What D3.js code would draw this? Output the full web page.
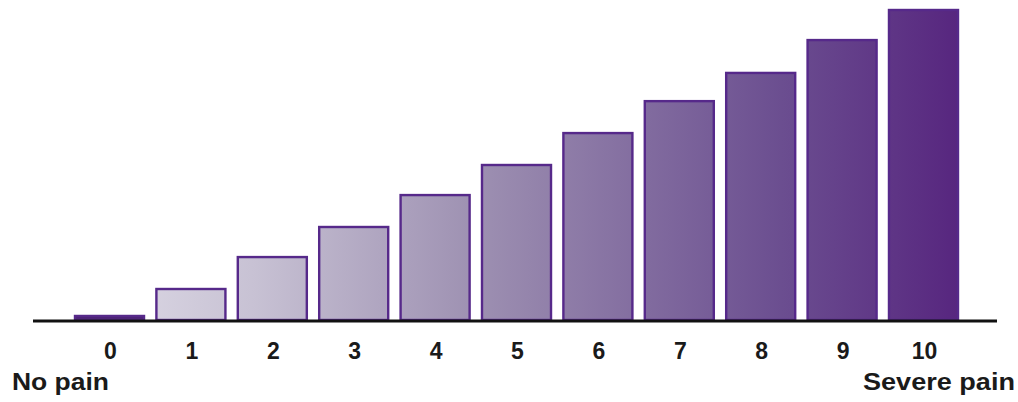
<!DOCTYPE html>
<html>
<head>
<meta charset="utf-8">
<script src="https://cdn.jsdelivr.net/npm/d3@7"></script>
<style>
  html, body { margin: 0; padding: 0; background: #ffffff; }
  svg { display: block; }
</style>
</head>
<body>
<svg id="chart" width="1018" height="402"></svg>
<script>
const categories = ["0", "1", "2", "3", "4", "5", "6", "7", "8", "9", "10"];
const values = [0.13, 1.0, 2.03, 3.0, 4.03, 5.0, 6.03, 7.06, 7.97, 9.03, 10.0];
const endLabels = ["No pain", "Severe pain"];

const svg = d3.select("#chart");

const x = d3.scaleBand()
  .domain(categories)
  .range([75, 958])
  .paddingInner(0.152)
  .paddingOuter(0);

const y = d3.scaleLinear()
  .domain([0, 10])
  .range([320, 10]);

const defs = svg.append("defs");
const grad = defs.append("linearGradient")
  .attr("id", "barGrad")
  .attr("gradientUnits", "userSpaceOnUse")
  .attr("x1", x("0")).attr("y1", 0)
  .attr("x2", x("10") + x.bandwidth()).attr("y2", 0);
grad.append("stop").attr("offset", "0%").attr("stop-color", "#e0dde8");
grad.append("stop").attr("offset", "20%").attr("stop-color", "#c8c2d4");
grad.append("stop").attr("offset", "45%").attr("stop-color", "#9e91b2");
grad.append("stop").attr("offset", "80%").attr("stop-color", "#6b4e90");
grad.append("stop").attr("offset", "100%").attr("stop-color", "#57267f");

svg.append("g")
  .selectAll("rect")
  .data(values)
  .join("rect")
  .attr("x", (d, i) => x(categories[i]))
  .attr("y", d => y(d))
  .attr("width", x.bandwidth())
  .attr("height", d => y(0) - y(d))
  .attr("fill", (d, i) => i === 0 ? "#4e2475" : "url(#barGrad)")
  .attr("stroke", "#56298a")
  .attr("stroke-width", 2.4);

// baseline
svg.append("line")
  .attr("x1", 33).attr("x2", 997)
  .attr("y1", 321).attr("y2", 321)
  .attr("stroke", "#111111")
  .attr("stroke-width", 3);

// tick labels
const axis = d3.axisBottom(x).tickSize(0).tickPadding(0);
const ax = svg.append("g")
  .attr("transform", "translate(0,343)")
  .call(axis);
ax.select(".domain").remove();
ax.selectAll("text")
  .attr("font-family", "'Liberation Sans', Arial, sans-serif")
  .attr("font-size", 23)
  .attr("font-weight", "bold")
  .attr("fill", "#1a1a1a")
  .attr("transform", "translate(1,0)");

svg.append("text")
  .attr("x", 12).attr("y", 390)
  .attr("font-family", "'Liberation Sans', Arial, sans-serif")
  .attr("font-size", 23)
  .attr("font-weight", "bold")
  .attr("fill", "#1a1a1a")
  .attr("textLength", 97)
  .attr("lengthAdjust", "spacingAndGlyphs")
  .text(endLabels[0]);

svg.append("text")
  .attr("x", 1015).attr("y", 390)
  .attr("text-anchor", "end")
  .attr("font-family", "'Liberation Sans', Arial, sans-serif")
  .attr("font-size", 23)
  .attr("font-weight", "bold")
  .attr("fill", "#1a1a1a")
  .attr("textLength", 152)
  .attr("lengthAdjust", "spacingAndGlyphs")
  .text(endLabels[1]);
</script>
</body>
</html>
